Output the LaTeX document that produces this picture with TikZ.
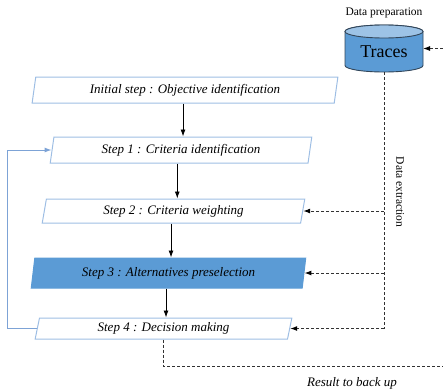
\documentclass[tikz,border=0pt]{standalone}
\usepackage{fontspec}
\setmainfont{Liberation Serif}
\usetikzlibrary{shapes.geometric,arrows.meta,calc}
\definecolor{boxline}{RGB}{158,190,228}
\definecolor{loopline}{RGB}{125,163,214}
\definecolor{stepfill}{RGB}{91,155,213}
\definecolor{cylbody}{RGB}{91,155,213}
\definecolor{cyltop}{RGB}{157,195,230}
\definecolor{cylline}{RGB}{50,70,90}
\definecolor{dashcol}{RGB}{50,50,50}
\begin{document}
\begin{tikzpicture}[x=1pt,y=-1pt,
  stepbox/.style={trapezium, trapezium left angle=79, trapezium right angle=101,
    trapezium stretches=true, draw=boxline, line width=1pt, inner sep=0pt,
    font=\fontsize{13}{15}\selectfont\itshape},
  flow/.style={-{Latex[length=7pt,width=5pt]}, line width=0.9pt, black},
  feed/.style={dashcol, line width=1pt, dash pattern=on 3pt off 2pt},
  feedarrow/.style={feed, -{Latex[length=7pt,width=5pt]}, arrows={[black]}},
  back/.style={loopline, line width=1pt, -{Latex[length=7pt,width=5pt]}},
  note/.style={font=\fontsize{11.5}{13}\selectfont, inner sep=0pt}]
\useasboundingbox (0,0) rectangle (443,391);

% process steps
\node[stepbox, minimum width=306pt, minimum height=26pt] (s0) at (185,90)
  {Initial step : Objective identification};
\node[stepbox, minimum width=262pt, minimum height=26pt] (s1) at (181,150)
  {Step 1 : Criteria identification};
\node[stepbox, minimum width=263pt, minimum height=24pt] (s2) at (173.5,211)
  {Step 2 : Criteria weighting};
\node[stepbox, minimum width=275pt, minimum height=30pt, fill=stepfill, draw=stepfill] (s3) at (168.5,273)
  {Step 3 : Alternatives preselection};
\node[stepbox, minimum width=257pt, minimum height=21pt] (s4) at (163.5,328.5)
  {Step 4 : Decision making};

% trace store
\filldraw[fill=cylbody, draw=cylline, line width=0.9pt]
  (345,31.5) -- (345,65.5) arc[start angle=180, end angle=360, x radius=39pt, y radius=6.5pt]
  -- (423,31.5) arc[start angle=0, end angle=180, x radius=39pt, y radius=6.5pt] -- cycle;
\filldraw[fill=cyltop, draw=cylline, line width=0.9pt]
  (384,31.5) ellipse[x radius=39pt, y radius=6.5pt];
\node[font=\fontsize{18}{20}\selectfont, inner sep=0pt] (traces) at (384,52) {Traces};
\coordinate (tbot) at (384,72);
\coordinate (tright) at (423,48.5);
\coordinate (tin) at (443,48.5);
\node[note] (prep) at (384,13) {Data preparation};

% main flow
\foreach \a/\b in {s0/s1, s1/s2, s2/s3, s3/s4}{
  \coordinate (m) at ($(\a.south)!0.5!(\b.north)$);
  \draw[flow] (m |- \a.south) -- (m |- \b.north);
}

% iteration back to step 1
\coordinate (lp) at (7,0);
\draw[back] (s4.west) -- (s4.west -| lp) |- (s1.west);

% data extraction feeds
\draw[feedarrow] (tin) -- (tright);
\draw[feed] (tbot) -- (tbot |- s4.east);
\draw[feedarrow] (tbot |- s4.east) -- (s4.east);
\draw[feedarrow] (tbot |- s3.east) -- (s3.east);
\draw[feedarrow] (tbot |- s2.east) -- (s2.east);
\node[note, rotate=-90] (extr) at (400,192) {Data extraction};

% result output
\coordinate (rout) at (443,366);
\draw[feed] (s4.south) -- (s4.south |- rout) -- (rout);
\node[font=\fontsize{13}{15}\selectfont\itshape, inner sep=0pt] (res) at (352,383) {Result to back up};
\end{tikzpicture}
\end{document}
